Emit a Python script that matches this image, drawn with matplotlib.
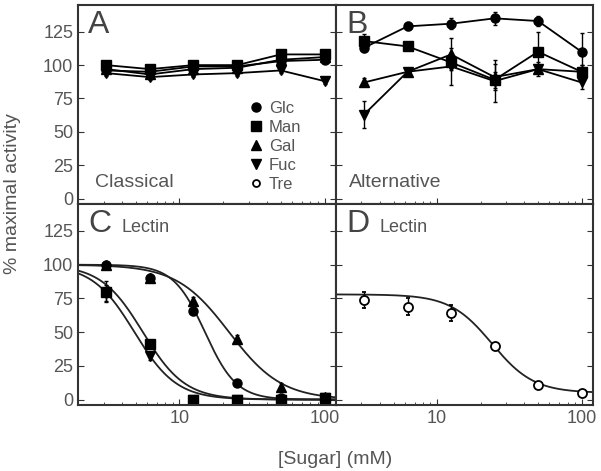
import numpy as np
import matplotlib.pyplot as plt
from matplotlib.lines import Line2D
from matplotlib.ticker import FixedLocator, NullFormatter

plt.rcParams['font.family'] = ['Liberation Sans', 'DejaVu Sans']

conc = [3.125, 6.25, 12.5, 25, 50, 100]
sugars = ['Glc', 'Man', 'Gal', 'Fuc']
markers = {'Glc': 'o', 'Man': 's', 'Gal': '^', 'Fuc': 'v'}

# panel A - classical pathway
a_vals = {
    'Glc': [96, 95, 99, 99, 103, 104],
    'Man': [100, 97, 100, 100, 108, 108],
    'Gal': [97, 93, 97, 98, 104, 106],
    'Fuc': [94, 91, 93, 94, 96, 88],
}
a_err = {
    'Glc': [2, 2, 2, 2, 2, 2],
    'Man': [2, 2, 2, 2, 2, 2],
    'Gal': [2, 2, 2, 2, 2, 2],
    'Fuc': [2, 2, 2, 2, 2, 2],
}

# panel B - alternative pathway
b_vals = {
    'Glc': [113, 129, 131, 135, 133, 110],
    'Man': [118, 114, 102, 89, 110, 95],
    'Gal': [87, 95, 108, 91, 97, 95],
    'Fuc': [63, 95, 99, 88, 97, 87],
}
b_err = {
    'Glc': [3, 3, 4, 5, 4, 14],
    'Man': [5, 3, 4, 6, 15, 5],
    'Gal': [3, 3, 12, 10, 5, 5],
    'Fuc': [10, 3, 14, 16, 3, 5],
}

# panel C - lectin pathway, measured points
c_vals = {
    'Glc': [100, 90, 66, 12, 1, 1],
    'Man': [80, 41, 0, 0, 0, 1],
    'Gal': [100, 90, 73, 45, 9, 2],
    'Fuc': [79, 32, 0, 0, 0, 1],
}
c_err = {
    'Glc': [2, 2, 3, 2, 1, 1],
    'Man': [8, 3, 1, 1, 1, 1],
    'Gal': [2, 3, 3, 3, 3, 1],
    'Fuc': [6, 3, 1, 1, 1, 1],
}
# fitted dose-response curves (top, bottom, IC50, hill)
c_fit = {
    'Glc': (100, 0, 15.0, 4.0),
    'Man': (100, 0, 5.6, 3.0),
    'Gal': (100, 0, 22.0, 2.4),
    'Fuc': (100, 0, 4.9, 3.0),
}

# panel D - trehalose, lectin pathway
d_vals = [74, 69, 64, 40, 11, 5]
d_err = [6, 6, 6, 2, 2, 1]
d_fit = (78, 5, 24.0, 3.0)


def hill(x, top, bottom, ic50, n):
    return bottom + (top - bottom) / (1 + (x / ic50) ** n)


xfit = np.logspace(np.log10(2), np.log10(120), 300)

fig = plt.figure(figsize=(6.01, 4.71), dpi=100)
W, H = 601, 471
x0, xm, x1 = 78, 336, 593
y0, ym, y1 = 5, 204, 405


def add_ax(l, r, t, b):
    return fig.add_axes([l / W, 1 - b / H, (r - l) / W, (b - t) / H])


axA = add_ax(x0, xm, y0, ym)
axB = add_ax(xm, x1, y0, ym)
axC = add_ax(x0, xm, ym, y1)
axD = add_ax(xm, x1, ym, y1)

grey = '#555555'
for ax in (axA, axB, axC, axD):
    ax.set_xscale('log')
    ax.set_xlim(2, 120)
    ax.set_ylim(-4, 145)
    ax.set_yticks([0, 25, 50, 75, 100, 125])
    ax.xaxis.set_major_locator(FixedLocator([10, 100]))
    ax.xaxis.set_minor_locator(FixedLocator([2, 3, 4, 5, 6, 7, 8, 9,
                                             20, 30, 40, 50, 60, 70, 80, 90]))
    ax.xaxis.set_minor_formatter(NullFormatter())
    ax.tick_params(axis='both', which='both', direction='in', colors='#333333',
                   labelcolor=grey, labelsize=13)
    ax.tick_params(axis='y', which='major', length=4, right=True)
    ax.tick_params(axis='x', which='major', length=4)
    ax.tick_params(axis='x', which='minor', length=2)
    for s in ax.spines.values():
        s.set_color('#333333')
        s.set_linewidth(1.5)

for ax in (axA, axB):
    ax.tick_params(labelbottom=False)
for ax in (axB, axD):
    ax.tick_params(labelleft=False)
for ax in (axC, axD):
    ax.set_xticklabels(['10', '100'])

for s in sugars:
    axA.errorbar(conc, a_vals[s], yerr=a_err[s], marker=markers[s], color='black',
                 ms=6.5, lw=1.3, elinewidth=1, capsize=1.5)
    axB.errorbar(conc, b_vals[s], yerr=b_err[s], marker=markers[s], color='black',
                 ms=6.5, lw=1.3, elinewidth=1, capsize=1.5)
    axC.errorbar(conc, c_vals[s], yerr=c_err[s], marker=markers[s], color='black',
                 ms=6.5, ls='none', elinewidth=1, capsize=1.5)
    axC.plot(xfit, hill(xfit, *c_fit[s]), color='#222222', lw=1.3)

axD.plot(xfit, hill(xfit, *d_fit), color='#222222', lw=1.3)
axD.errorbar(conc, d_vals, yerr=d_err, marker='o', mfc='white', mec='black',
             color='black', ms=6.5, ls='none', elinewidth=1, capsize=1.5, mew=1.3)

txt = '#444444'
for ax, letter in ((axA, 'A'), (axB, 'B'), (axC, 'C'), (axD, 'D')):
    ax.text(0.04, 0.975, letter, transform=ax.transAxes, fontsize=23,
            color=txt, va='top', ha='left')
axA.text(0.065, 0.065, 'Classical', transform=axA.transAxes, fontsize=14,
         color=grey, va='bottom')
axB.text(0.05, 0.065, 'Alternative', transform=axB.transAxes, fontsize=14,
         color=grey, va='bottom')
for ax in (axC, axD):
    ax.text(0.17, 0.925, 'Lectin', transform=ax.transAxes, fontsize=13,
            color=grey, va='top')

handles = [Line2D([], [], marker=markers[s], color='black', ls='none', ms=6.5)
           for s in sugars]
handles.append(Line2D([], [], marker='o', mfc='white', mec='black', color='black',
                      ls='none', ms=5, mew=1.3))
leg = axA.legend(handles, sugars + ['Tre'], loc='upper left',
                 bbox_to_anchor=(0.63, 0.56), frameon=False, fontsize=12,
                 handlelength=0.8, handletextpad=0.4, labelspacing=0.24,
                 borderpad=0)
for t in leg.get_texts():
    t.set_color(grey)

fig.text(13 / W, 1 - 194 / H, '% maximal activity', rotation=90, fontsize=14,
         color=grey, ha='center', va='center')
fig.text((x0 + x1) / 2 / W, 1 - 459 / H, '[Sugar] (mM)', fontsize=14,
         color=grey, ha='center', va='center')

fig.savefig('out.png', dpi=100)
